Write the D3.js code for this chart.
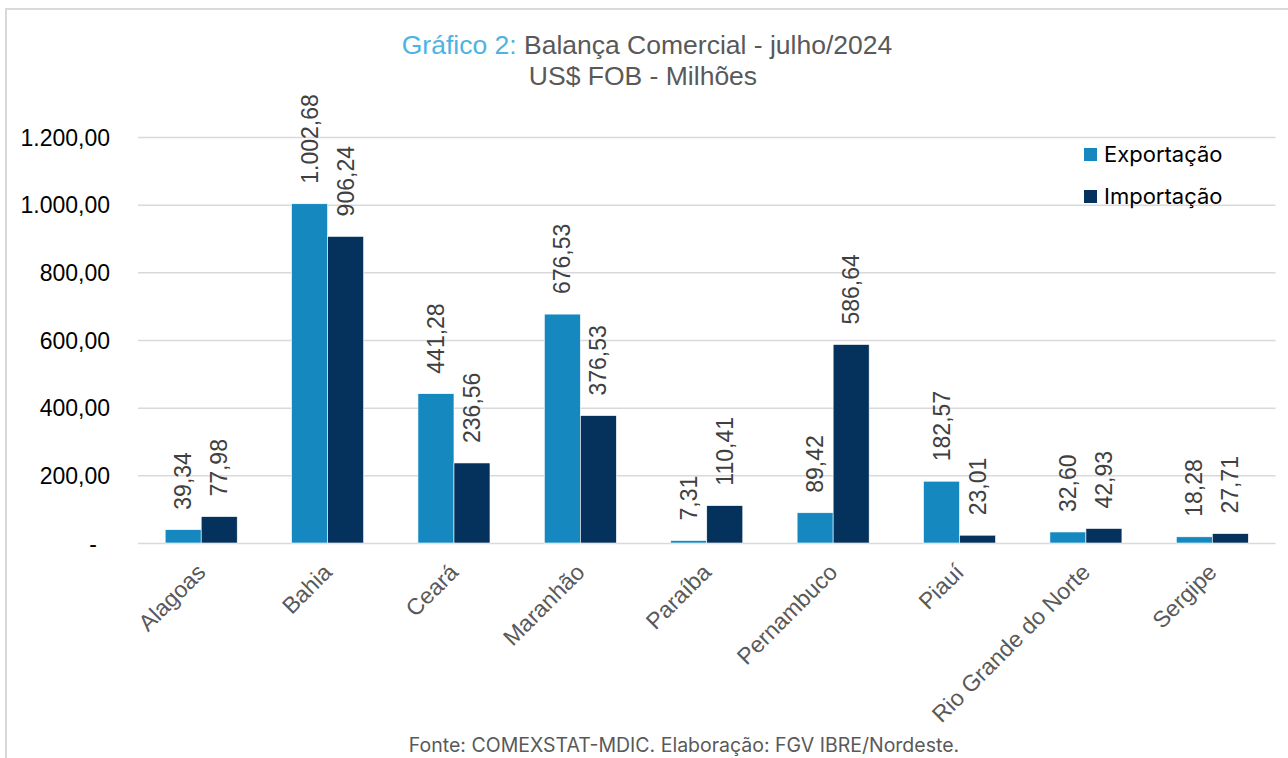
<!DOCTYPE html>
<html>
<head>
<meta charset="utf-8">
<script src="https://cdn.jsdelivr.net/npm/d3@7"></script>
<style>
html,body{margin:0;padding:0;background:#fff;}
svg{display:block;}
</style>
</head>
<body>
<svg id="chart" width="1288" height="758"></svg>
<script>
const categories = ["Alagoas","Bahia","Ceará","Maranhão","Paraíba","Pernambuco","Piauí","Rio Grande do Norte","Sergipe"];
const seriesNames = ["Exportação","Importação"];
const exportacao = [39.34, 1002.68, 441.28, 676.53, 7.31, 89.42, 182.57, 32.60, 18.28];
const importacao = [77.98, 906.24, 236.56, 376.53, 110.41, 586.64, 23.01, 42.93, 27.71];
const yTicks = [0, 200, 400, 600, 800, 1000, 1200];
const titleLead = "Gráfico 2:";
const titleRest = " Balança Comercial - julho/2024";
const subtitle = "US$ FOB - Milhões";
const sourceText = "Fonte: COMEXSTAT-MDIC. Elaboração: FGV IBRE/Nordeste.";

const colors = ["#1589bf", "#05325d"];
const seriesValues = [exportacao, importacao];

const br = d3.formatLocale({decimal: ",", thousands: ".", grouping: [3], currency: ["R$", ""]});
const fmt = br.format(",.2f");

const svg = d3.select("#chart");

// frame
svg.append("rect").attr("x", 6).attr("y", 9).attr("width", 1400).attr("height", 900)
  .attr("fill", "none").attr("stroke", "#d9d9d9").attr("stroke-width", 2);

const x0 = d3.scaleBand().domain(categories).range([138, 1275.5]).paddingInner(0.43).paddingOuter(0.215);
const x1 = d3.scaleBand().domain(seriesNames).range([0, x0.bandwidth()]);
const y = d3.scaleLinear().domain([0, 1200]).range([543, 137]);

// gridlines
const yAxis = d3.axisLeft(y).tickValues(yTicks).tickSize(-(1275.5 - 138)).tickFormat(d => d === 0 ? "-" : fmt(d));
const gy = svg.append("g").attr("transform", "translate(138,0)").call(yAxis);
gy.select(".domain").remove();
gy.selectAll(".tick line").attr("stroke", "#d9d9d9").attr("stroke-width", 1.5);
gy.selectAll(".tick text")
  .attr("x", d => d === 0 ? -41 : -28)
  .attr("dy", "0.35em")
  .attr("fill", "#000")
  .style("font-family", "'Liberation Sans', Arial, sans-serif")
  .style("font-size", "23px");

// bars
const groups = svg.append("g").selectAll("g").data(categories).join("g")
  .attr("transform", d => `translate(${x0(d)},0)`);

groups.selectAll("rect").data((c, i) => seriesNames.map((s, j) => ({s, j, v: seriesValues[j][i]})))
  .join("rect")
  .attr("x", d => x1(d.s))
  .attr("width", x1.bandwidth())
  .attr("y", d => y(d.v))
  .attr("height", d => y(0) - y(d.v))
  .attr("fill", d => colors[d.j])
  .attr("stroke", "#ffffff").attr("stroke-width", 0.6);

// data labels
groups.selectAll("text.val").data((c, i) => seriesNames.map((s, j) => ({s, j, v: seriesValues[j][i]})))
  .join("text").attr("class", "val")
  .attr("transform", d => `translate(${x1(d.s) + x1.bandwidth() / 2},${y(d.v) - 20}) rotate(-90)`)
  .attr("text-anchor", "start")
  .attr("dy", "0.35em")
  .attr("fill", "#404040")
  .style("font-family", "'Liberation Sans', Arial, sans-serif")
  .style("font-size", "23px")
  .text(d => fmt(d.v));

// category labels
svg.append("g").selectAll("text").data(categories).join("text")
  .attr("transform", d => `translate(${x0(d) + x0.bandwidth() / 2},${568}) rotate(-45)`)
  .attr("text-anchor", "end")
  .attr("dy", "0.35em")
  .attr("fill", "#595959")
  .style("font-family", "'Liberation Sans', Arial, sans-serif")
  .style("font-size", "23px")
  .text(d => d);

// title
const t = svg.append("text").attr("x", 647).attr("y", 54).attr("text-anchor", "middle")
  .style("font-family", "'Liberation Sans', Arial, sans-serif").style("font-size", "26.5px");
t.append("tspan").attr("fill", "#4db3e2").text(titleLead);
t.append("tspan").attr("fill", "#595959").text(titleRest);
svg.append("text").attr("x", 643).attr("y", 85).attr("text-anchor", "middle")
  .attr("fill", "#595959")
  .style("font-family", "'Liberation Sans', Arial, sans-serif").style("font-size", "26.5px")
  .text(subtitle);

// legend
const lg = svg.append("g").selectAll("g").data(seriesNames).join("g")
  .attr("transform", (d, i) => `translate(1084,${148 + i * 42})`);
lg.append("rect").attr("width", 13).attr("height", 13).attr("fill", (d, i) => colors[i]);
lg.append("text").attr("x", 20).attr("y", 14)
  .attr("fill", "#000")
  .style("font-family", "Inter, 'Noto Sans', sans-serif").style("font-size", "22px")
  .text(d => d);

// source
svg.append("text").attr("x", 684).attr("y", 752).attr("text-anchor", "middle")
  .attr("fill", "#595959")
  .style("font-family", "Inter, 'Noto Sans', sans-serif").style("font-size", "19.5px")
  .text(sourceText);
</script>
</body>
</html>
